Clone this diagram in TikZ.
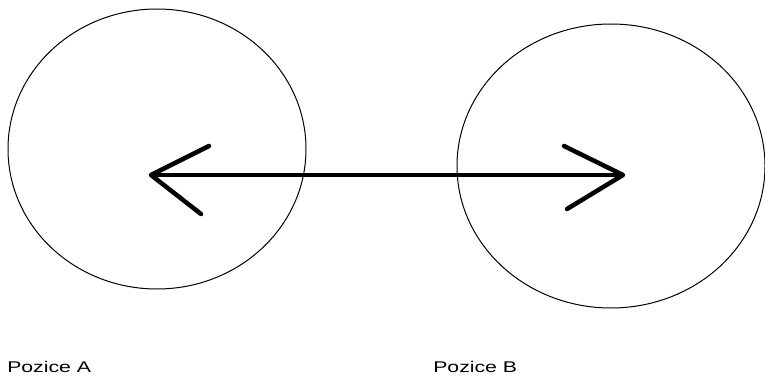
\documentclass[tikz,border=0pt]{standalone}
\usepackage{fontspec}
\setmainfont{Liberation Sans}
\usetikzlibrary{shapes.geometric}
\begin{document}
\begin{tikzpicture}[x=1pt,y=-1pt,
  ring/.style={draw=black,line width=1pt,ellipse,inner sep=0pt},
  shaft/.style={draw=black,line width=4pt},
  headline/.style={draw=black,line width=4.5pt,line cap=round,line join=round},
  lbl/.style={font=\fontsize{15.5pt}{18pt}\selectfont,inner sep=0pt,anchor=base west,xscale=1.37}]
\useasboundingbox (0,0) rectangle (765,377);
\fill[white] (0,0) rectangle (765,377);
\node[ring,minimum width=298pt,minimum height=280pt] (cA) at (157,149) {};
\node[ring,minimum width=308pt,minimum height=284pt] (cB) at (611,166) {};
\coordinate (tA) at (151,175);
\coordinate (tB) at (623,175);
\coordinate (aU) at (209,146);
\coordinate (aL) at (201,214);
\coordinate (bU) at (564,146);
\coordinate (bL) at (567,209);
\draw[shaft] (tA) -- (tB);
\draw[headline] (aU) -- (tA) -- (aL);
\draw[headline] (bU) -- (tB) -- (bL);
\node[lbl] (pA) at (7,372) {Pozice A};
\node[lbl] (pB) at (433,372) {Pozice B};
\end{tikzpicture}
\end{document}
